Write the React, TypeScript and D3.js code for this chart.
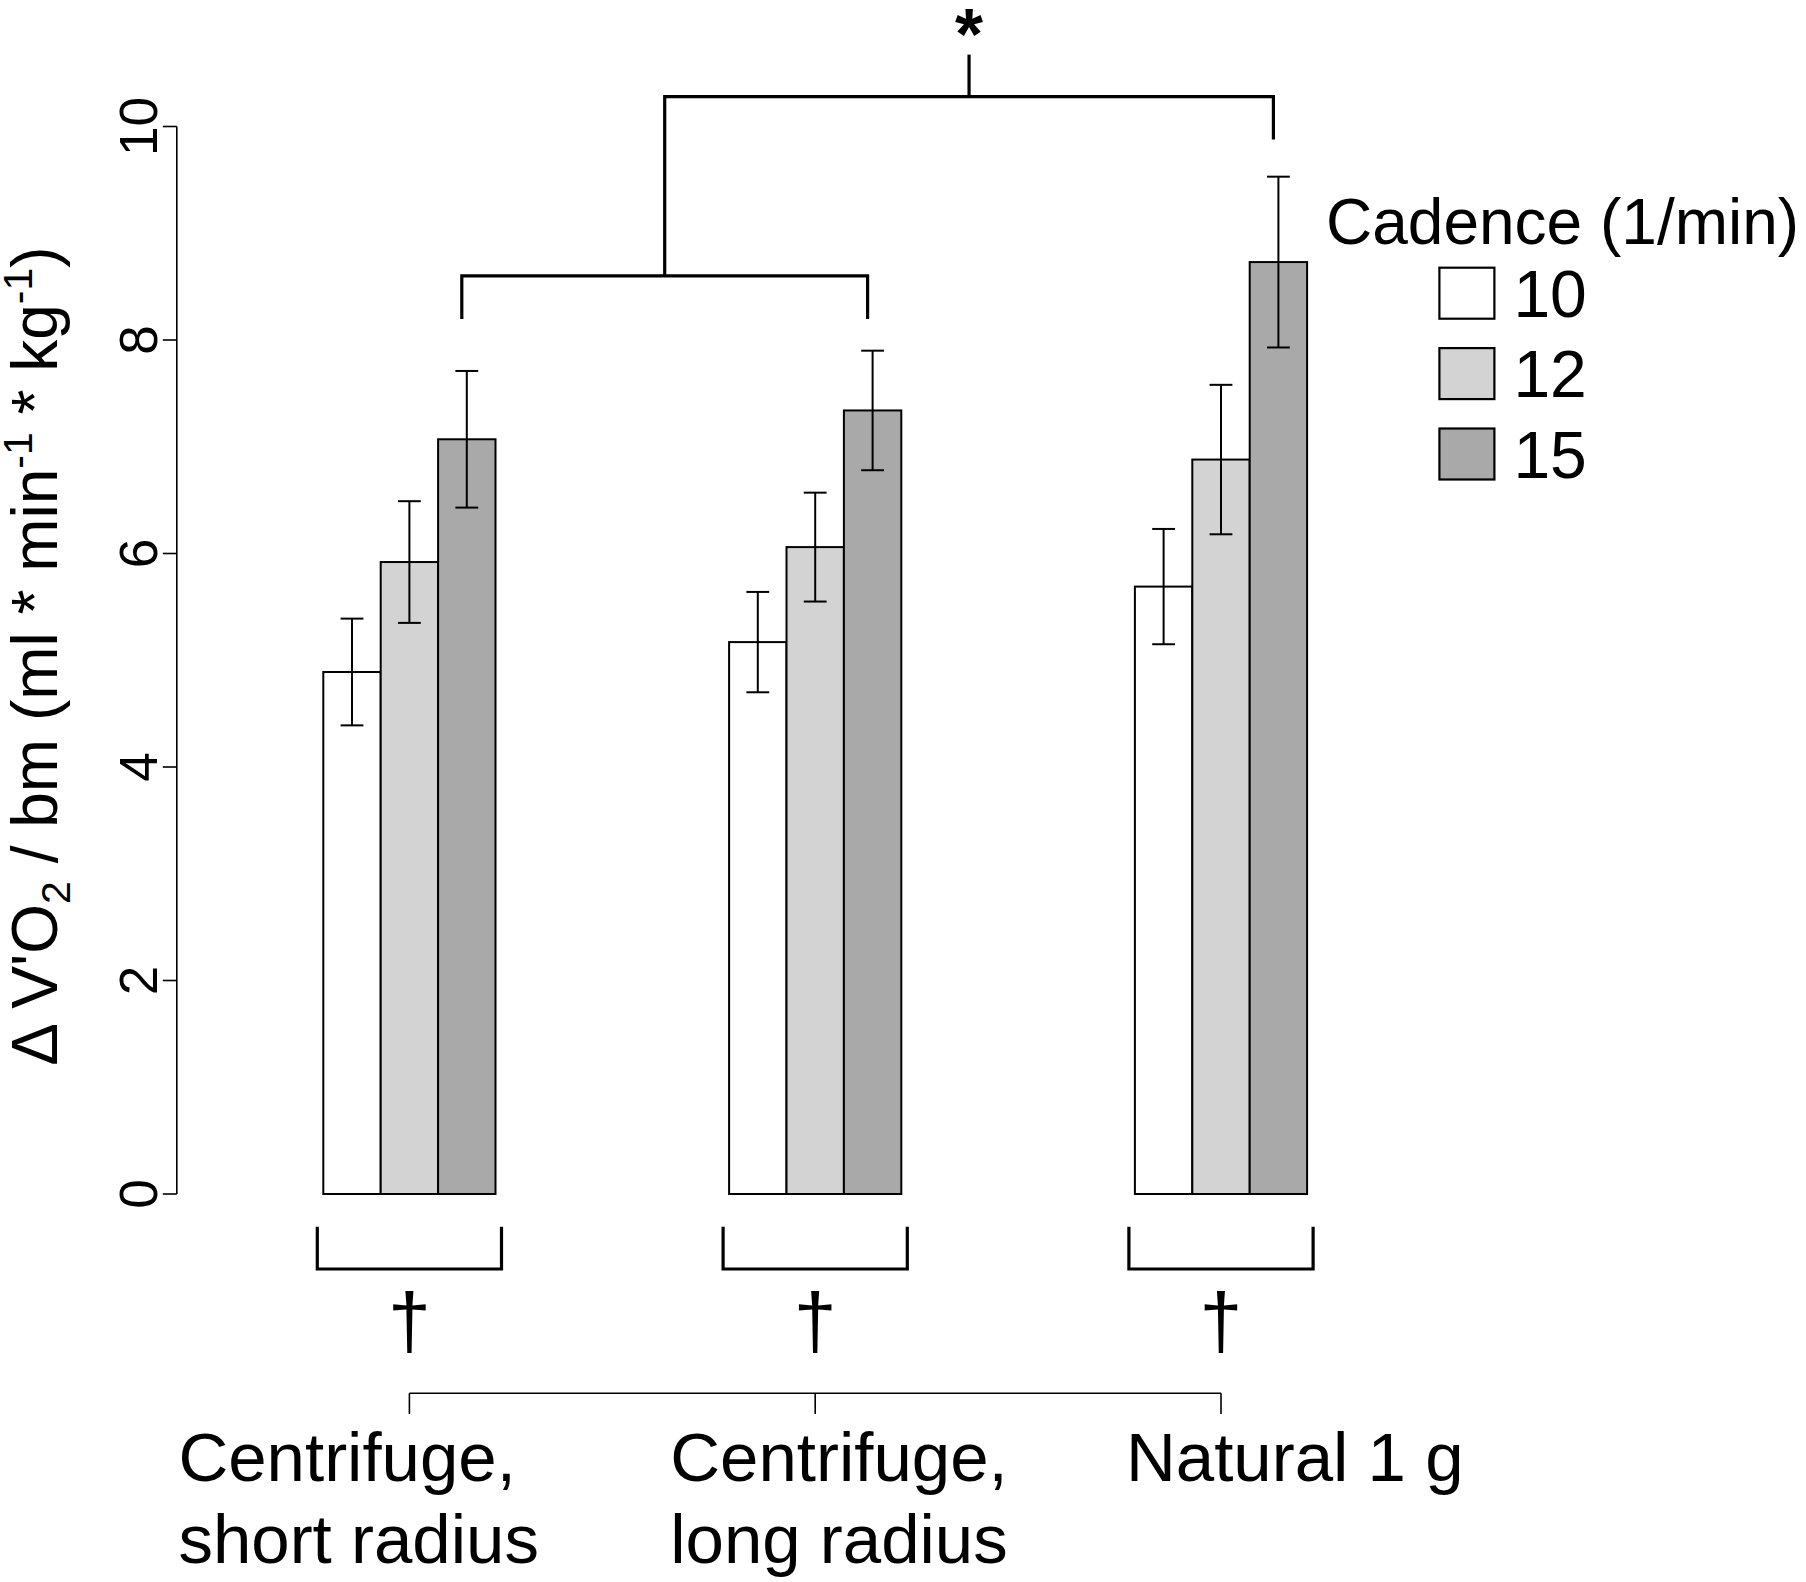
import React from 'react';
import * as d3 from 'd3';

// groups along the x axis (label lines)
const groups = ['short', 'long', 'natural'];
const groupLabels = [
  ['Centrifuge,', 'short radius'],
  ['Centrifuge,', 'long radius'],
  ['Natural 1 g'],
];

// cadence (1/min)
const cadences = ['10', '12', '15'];
const cadenceFill = ['#ffffff', '#d3d3d3', '#a9a9a9'];

// mean delta VO2 / bm per cadence, one value per group
const mean10 = [4.89, 5.17, 5.69];
const mean12 = [5.92, 6.06, 6.88];
const mean15 = [7.07, 7.34, 8.73];

// error bar half-widths
const err10 = [0.5, 0.47, 0.54];
const err12 = [0.57, 0.51, 0.7];
const err15 = [0.64, 0.56, 0.8];

const yTicks = [0, 2, 4, 6, 8, 10];

const W = 1806;
const H = 1582;
const FONT = "'Liberation Sans', Arial, Helvetica, sans-serif";

export default function App() {
  const y = d3.scaleLinear().domain([0, 10]).range([1194, 126.5]);
  const xc = d3.scalePoint<string>().domain(groups).range([409.4, 1221]);
  const xb = d3.scaleBand<string>().domain(cadences).range([-86.1, 86.1]);
  const bw = xb.bandwidth();

  const means = [mean10, mean12, mean15];
  const errs = [err10, err12, err15];

  const rows = groups.flatMap((g, gi) =>
    cadences.map((c, ci) => ({
      g,
      c,
      ci,
      v: means[ci][gi],
      e: errs[ci][gi],
    }))
  );

  const axisX = 176.8;
  const capHalf = 11.4;

  // bracket positions derived from the 15/min bar centres
  const legX = (g: string) => (xc(g) as number) + (xb('15') as number) + bw / 2 - 5;
  const b1L = legX('short');
  const b1R = legX('long');
  const b1Mid = (b1L + b1R) / 2;
  const b2R = legX('natural');
  const b2Mid = (b1Mid + b2R) / 2;
  const b1Y = y(8.6);
  const b2Y = y(10.28);

  const labelOffsets = [-231, -145, -95];

  return (
    <svg
      width={W}
      height={H}
      style={{ position: 'absolute', left: 0, top: 0, background: '#fff' }}
      fontFamily={FONT}
    >
      <rect x={0} y={0} width={W} height={H} fill="#fff" />

      {/* y axis */}
      <line x1={axisX} x2={axisX} y1={y(0)} y2={y(10)} stroke="#000" strokeWidth={1.6} />
      {yTicks.map((t) => (
        <g key={t}>
          <line x1={axisX - 14} x2={axisX} y1={y(t)} y2={y(t)} stroke="#000" strokeWidth={1.6} />
          <text
            transform={`translate(157,${y(t)}) rotate(-90)`}
            textAnchor="middle"
            fontSize={53}
          >
            {t}
          </text>
        </g>
      ))}

      {/* y axis title */}
      <text transform={`translate(57,656) rotate(-90)`} textAnchor="middle" fontSize={64}>
        <tspan>Δ V'O</tspan>
        <tspan fontSize={41} dy={13}>2</tspan>
        <tspan dy={-13}> / bm (ml * min</tspan>
        <tspan fontSize={41} dy={-25}>-1</tspan>
        <tspan dy={25}> * kg</tspan>
        <tspan fontSize={41} dy={-25}>-1</tspan>
        <tspan dy={25}>)</tspan>
      </text>

      {/* bars */}
      {rows.map((r) => {
        const x = (xc(r.g) as number) + (xb(r.c) as number);
        return (
          <rect
            key={r.g + r.c}
            x={x}
            y={y(r.v)}
            width={bw}
            height={y(0) - y(r.v)}
            fill={cadenceFill[r.ci]}
            stroke="#000"
            strokeWidth={2}
          />
        );
      })}

      {/* error bars */}
      {rows.map((r) => {
        const cx = (xc(r.g) as number) + (xb(r.c) as number) + bw / 2;
        const top = y(r.v + r.e);
        const bot = y(r.v - r.e);
        return (
          <g key={'e' + r.g + r.c} stroke="#000" strokeWidth={2}>
            <line x1={cx} x2={cx} y1={top} y2={bot} />
            <line x1={cx - capHalf} x2={cx + capHalf} y1={top} y2={top} />
            <line x1={cx - capHalf} x2={cx + capHalf} y1={bot} y2={bot} />
          </g>
        );
      })}

      {/* significance brackets above */}
      <g stroke="#000" strokeWidth={3.2} fill="none">
        <path d={`M${b1L},${b1Y + 43} V${b1Y} H${b1R} V${b1Y + 43}`} />
        <path d={`M${b1Mid},${b1Y} V${b2Y} H${b2R} V${b2Y + 43}`} />
        <path d={`M${b2Mid},${b2Y} V${b2Y - 42}`} />
      </g>
      <text x={b2Mid} y={59} textAnchor="middle" fontSize={72} fontWeight="bold">
        *
      </text>

      {/* brackets under each group with dagger */}
      {groups.map((g) => {
        const c = xc(g) as number;
        const l = c - 3 * bw / 2 - 6;
        const rr = c + 3 * bw / 2 + 6;
        return (
          <g key={'d' + g}>
            <path
              d={`M${l},1226.7 V1269 H${rr} V1226.7`}
              stroke="#000"
              strokeWidth={3.2}
              fill="none"
            />
            <text x={c} y={1348} textAnchor="middle" fontSize={77}>
              †
            </text>
          </g>
        );
      })}

      {/* x axis */}
      <line
        x1={xc(groups[0]) as number}
        x2={xc(groups[groups.length - 1]) as number}
        y1={1393.3}
        y2={1393.3}
        stroke="#000"
        strokeWidth={1.6}
      />
      {groups.map((g, i) => (
        <g key={'x' + g}>
          <line
            x1={xc(g) as number}
            x2={xc(g) as number}
            y1={1393.3}
            y2={1414}
            stroke="#000"
            strokeWidth={1.6}
          />
          <text x={(xc(g) as number) + labelOffsets[i]} y={1481} fontSize={69}>
            {groupLabels[i].map((line, li) => (
              <tspan key={li} x={(xc(g) as number) + labelOffsets[i]} dy={li === 0 ? 0 : 81.7}>
                {line}
              </tspan>
            ))}
          </text>
        </g>
      ))}

      {/* legend */}
      <text x={1326} y={244} fontSize={64}>
        Cadence (1/min)
      </text>
      {cadences.map((c, i) => (
        <g key={'l' + c} transform={`translate(1439.4,${267.7 + i * 80.4})`}>
          <rect x={0} y={0} width={55} height={51} fill={cadenceFill[i]} stroke="#000" strokeWidth={2.2} />
          <text x={74} y={49} fontSize={66}>
            {c}
          </text>
        </g>
      ))}
    </svg>
  );
}
